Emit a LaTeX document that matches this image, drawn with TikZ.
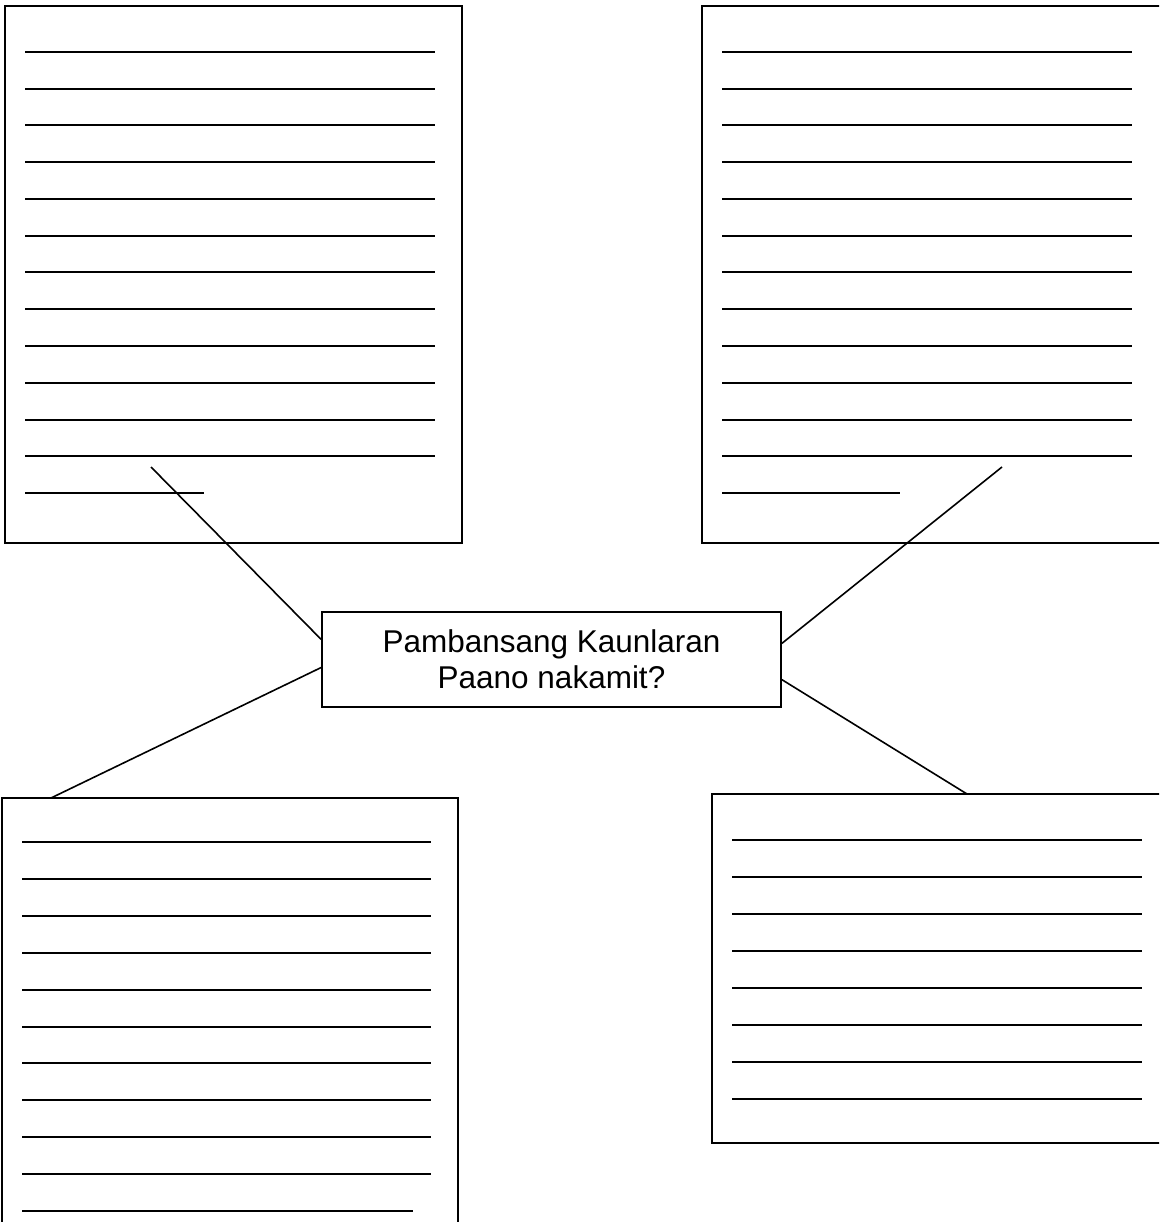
\documentclass[tikz,border=0pt]{standalone}
\usepackage{fontspec}
\setmainfont{Liberation Sans}
\begin{document}
\begin{tikzpicture}[x=1pt,y=-1pt,
  panel/.style={draw=black, line width=2pt, fill=white, rectangle, inner sep=0pt},
  center/.style={draw=black, line width=1.8pt, fill=white, rectangle, inner sep=0pt,
    minimum width=459pt, minimum height=95pt, align=center,
    font=\fontsize{31.5pt}{36pt}\selectfont},
  rule/.style={draw=black, line width=2pt},
  link/.style={draw=black, line width=1.6pt}]
\clip (0,0) rectangle (1159,1222);
\fill[white] (0,0) rectangle (1159,1222);
% panels
\node[panel, minimum width=457pt, minimum height=537pt] (tl) at (233.5,274.5) {};
\node[panel, minimum width=478pt, minimum height=537pt] (tr) at (941,274.5) {};
\node[panel, minimum width=456pt, minimum height=450pt] (bl) at (230,1023) {};
\node[panel, minimum width=468pt, minimum height=349pt] (br) at (946,968.5) {};
% writing lines
\foreach \k in {0,...,11} {
  \draw[rule] (25,52+36.75*\k) -- (435,52+36.75*\k);
  \draw[rule] (722,52+36.75*\k) -- (1132,52+36.75*\k);
}
\draw[rule] (25,493) -- (204,493);
\draw[rule] (722,493) -- (900,493);
\foreach \k in {0,...,9} {
  \draw[rule] (22,842+36.9*\k) -- (431,842+36.9*\k);
}
\draw[rule] (22,1211) -- (413,1211);
\foreach \k in {0,...,7} {
  \draw[rule] (732,840+37*\k) -- (1142,840+37*\k);
}
% center
\node[center] (c) at (551.5,659.5) {Pambansang Kaunlaran\\Paano nakamit?};
% connector ends
\coordinate (tlend) at (151,467);
\coordinate (trend) at (1002,467);
\coordinate (blend) at (51,798);
\coordinate (brend) at (967,794);
\draw[link] (tlend) -- (c.175.6);
\draw[link] (trend) -- (c.4.86);
\draw[link] (blend) -- (c.182.1);
\draw[link] (brend) -- (c.355.4);
\end{tikzpicture}
\end{document}
